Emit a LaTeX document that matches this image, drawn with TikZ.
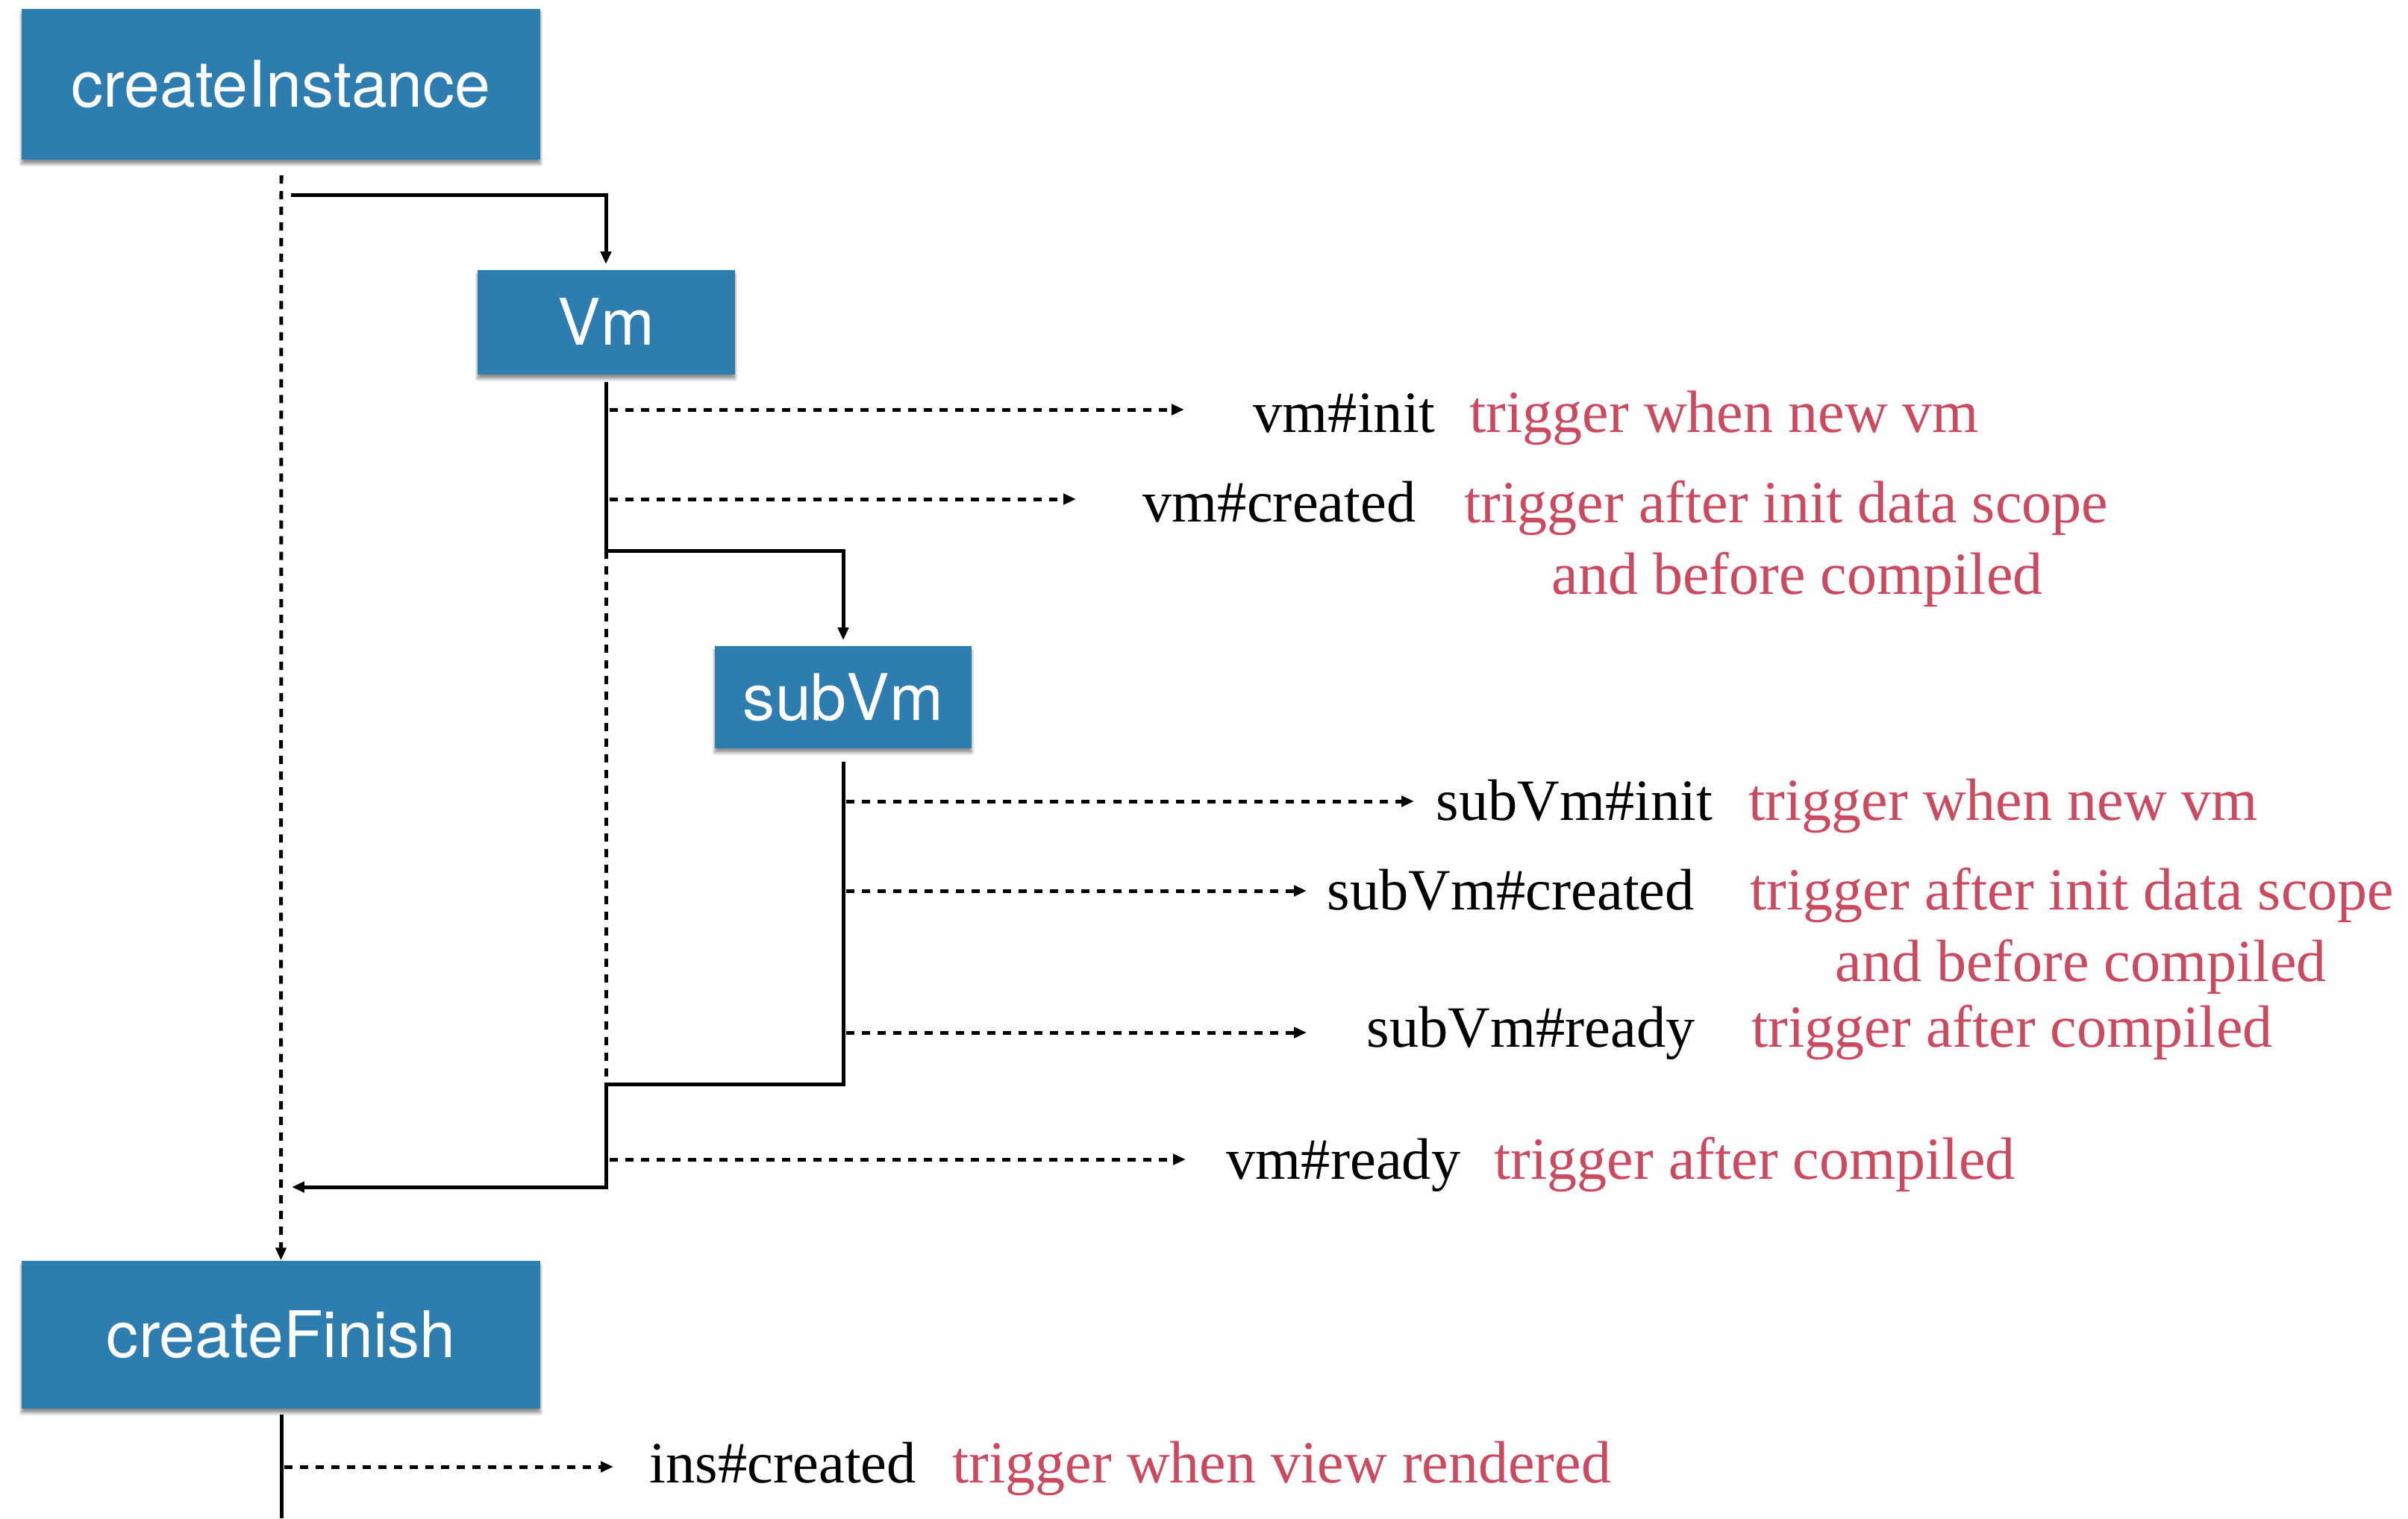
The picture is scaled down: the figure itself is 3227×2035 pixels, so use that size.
\documentclass[tikz,border=0pt]{standalone}
\usepackage{fontspec}
\setmainfont{Liberation Serif}
\newfontfamily\boxfont{TeX Gyre Heros}
\usetikzlibrary{arrows.meta,shadows.blur}
\definecolor{boxblue}{RGB}{46,125,176}
\definecolor{notered}{RGB}{204,74,96}
\begin{document}
\begin{tikzpicture}[x=0.01cm,y=-0.01cm,
  box/.style={fill=boxblue, text=white, font=\boxfont\fontsize{24.5}{28}\selectfont,
    inner sep=0pt, text height=17.4pt, text depth=0pt,
    blur shadow={shadow xshift=0pt, shadow yshift=-1.6pt, shadow blur radius=1.2pt, shadow opacity=45}},
  evlabel/.style={anchor=base west, inner sep=0pt, font=\fontsize{22.3}{27}\selectfont},
  notelabel/.style={anchor=base west, inner sep=0pt, text=notered, font=\fontsize{22.76}{27}\selectfont},
  life/.style={line width=1.42pt},
  dsh/.style={line width=1.42pt, dash pattern=on 3.13pt off 2.85pt},
  tip/.style={-{Triangle[length=4.8pt,width=4pt]}},
]
\useasboundingbox (0,0) rectangle (3227,2035);

% boxes
\node[box, minimum width=6.95cm, minimum height=2.02cm] (ci) at (376.5,113) {createInstance};
\node[box, minimum width=3.45cm, minimum height=1.40cm] (vm) at (812.5,432) {Vm};
\node[box, minimum width=3.44cm, minimum height=1.37cm] (sub) at (1130,934.5) {subVm};
\node[box, minimum width=6.95cm, minimum height=1.98cm] (cf) at (376.5,1789) {createFinish};

% coordinates
\coordinate (ciTop) at (377,235);
\coordinate (ciOut) at (390,261);
\coordinate (vmIn) at (812,354);
\coordinate (vmL1) at (812,512);
\coordinate (vmL2) at (812,738);
\coordinate (vmL3) at (812,1453);
\coordinate (subIn) at (1130,858);
\coordinate (subL1) at (1130,1021);
\coordinate (subL2) at (1130,1453);
\coordinate (vmL4) at (812,1591);
\coordinate (ciRet) at (391,1591);
\coordinate (cfL1) at (377,1896);
\coordinate (cfL2) at (377,2035);

% lifelines and flow
\draw[dsh, tip] (ciTop) -- (cf.north);
\draw[life, tip] (ciOut) -| (vmIn);
\draw[life] (vmL1) -- (vmL2);
\draw[dsh] (vmL2) -- (vmL3);
\draw[life, tip] (vmL2) -| (subIn);
\draw[life, tip] (subL1) -- (subL2) -- (vmL3) -- (vmL4) -- (ciRet);
\draw[life] (cfL1) -- (cfL2);

% labels
\node[evlabel] (l1) at (1679,579) {vm\#init};
\node[notelabel] (n1) at (1969,579) {trigger when new vm};
\node[evlabel] (l2) at (1531,699) {vm\#created};
\node[notelabel] (n2) at (1962,700) {trigger after init data scope};
\node[notelabel] (n2b) at (2079,796) {and before compiled};
\node[evlabel] (l3) at (1924,1099) {subVm\#init};
\node[notelabel] (n3) at (2343,1099) {trigger when new vm};
\node[evlabel] (l4) at (1778,1219) {subVm\#created};
\node[notelabel] (n4) at (2345,1219) {trigger after init data scope};
\node[notelabel] (n4b) at (2459,1315) {and before compiled};
\node[evlabel] (l5) at (1831,1403) {subVm\#ready};
\node[notelabel] (n5) at (2347,1403) {trigger after compiled};
\node[evlabel] (l6) at (1643,1580) {vm\#ready};
\node[notelabel] (n6) at (2002,1580) {trigger after compiled};
\node[evlabel] (l7) at (870,1987) {ins\#created};
\node[notelabel] (n7) at (1276,1987) {trigger when view rendered};

% event arrows
\coordinate (e1a) at (817,549);  \coordinate (e1b) at (1587,549);
\coordinate (e2a) at (817,669);  \coordinate (e2b) at (1442,669);
\coordinate (e3a) at (1134,1074); \coordinate (e3b) at (1895,1074);
\coordinate (e4a) at (1134,1194); \coordinate (e4b) at (1751,1194);
\coordinate (e5a) at (1134,1384); \coordinate (e5b) at (1751,1384);
\coordinate (e6a) at (817,1554); \coordinate (e6b) at (1589,1554);
\coordinate (e7a) at (381,1966); \coordinate (e7b) at (822,1966);
\foreach \i in {1,...,7}{
  \draw[dsh, tip] (e\i a) -- (e\i b);
}
\end{tikzpicture}
\end{document}
